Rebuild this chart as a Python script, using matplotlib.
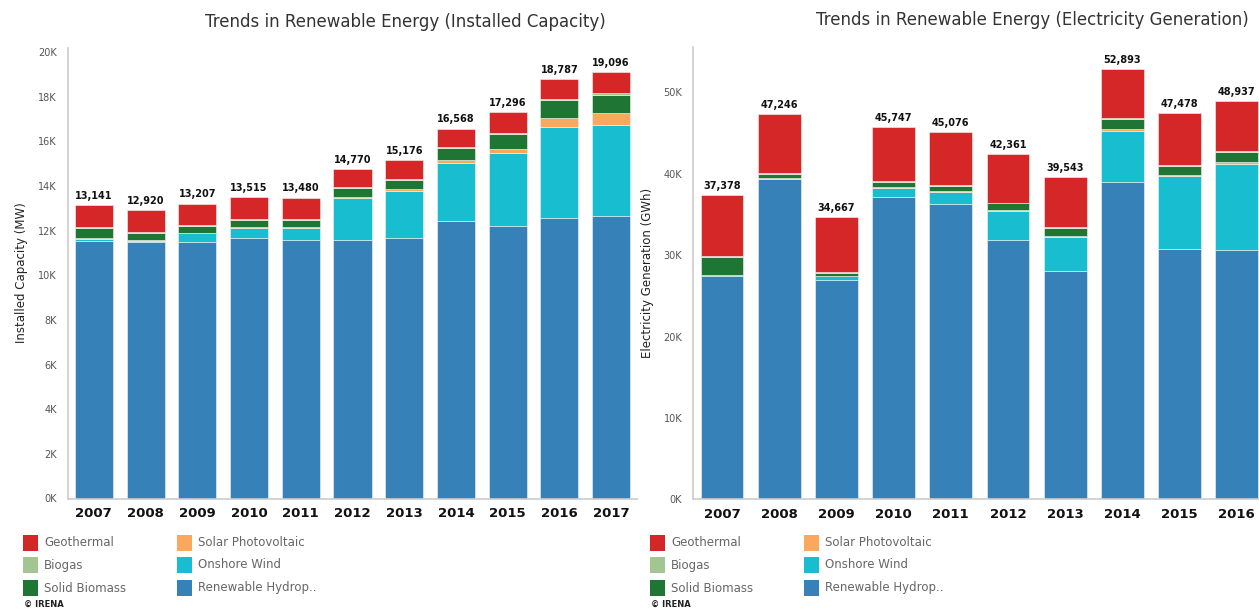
import matplotlib
matplotlib.use("Agg")
import matplotlib.pyplot as plt
from matplotlib.patches import Rectangle

plt.rcParams['font.family'] = ['DejaVu Sans']

# --- data (values in K) ---
years_cap = ['2007', '2008', '2009', '2010', '2011', '2012', '2013', '2014', '2015', '2016', '2017']
cap_hydro = [11.54, 11.49, 11.50, 11.65, 11.56, 11.60, 11.66, 12.43, 12.19, 12.57, 12.64]
cap_wind = [0.09, 0.05, 0.39, 0.46, 0.56, 1.88, 2.10, 2.61, 3.30, 4.06, 4.09]
cap_solar = [0.02, 0.02, 0.02, 0.03, 0.03, 0.04, 0.10, 0.12, 0.15, 0.39, 0.55]
cap_biomass = [0.45, 0.34, 0.28, 0.34, 0.33, 0.38, 0.40, 0.52, 0.70, 0.81, 0.81]
cap_biogas = [0.05, 0.05, 0.05, 0.05, 0.05, 0.06, 0.05, 0.05, 0.05, 0.05, 0.05]
cap_geo = [0.991, 0.97, 0.967, 0.985, 0.95, 0.81, 0.866, 0.838, 0.906, 0.907, 0.956]
cap_totals = [13141, 12920, 13207, 13515, 13480, 14770, 15176, 16568, 17296, 18787, 19096]

years_gen = ['2007', '2008', '2009', '2010', '2011', '2012', '2013', '2014', '2015', '2016']
gen_hydro = [27.42, 39.34, 26.95, 37.20, 36.34, 31.88, 28.07, 39.00, 30.81, 30.65]
gen_wind = [0.15, 0.05, 0.44, 1.10, 1.47, 3.60, 4.14, 6.30, 8.85, 10.53]
gen_solar = [0.03, 0.10, 0.08, 0.08, 0.08, 0.10, 0.10, 0.25, 0.15, 0.28]
gen_biomass = [2.17, 0.45, 0.33, 0.66, 0.57, 0.77, 0.98, 1.18, 1.15, 1.19]
gen_biogas = [0.10, 0.10, 0.10, 0.10, 0.10, 0.10, 0.15, 0.10, 0.10, 0.10]
gen_geo = [7.50, 7.25, 6.77, 6.60, 6.516, 5.911, 6.103, 6.063, 6.418, 6.187]
gen_totals = [37378, 47246, 34667, 45747, 45076, 42361, 39543, 52893, 47478, 48937]

series_names = ['Renewable Hydrop..', 'Onshore Wind', 'Solar Photovoltaic',
                'Solid Biomass', 'Biogas', 'Geothermal']
series_colors = ['#3682b8', '#18bdcf', '#fca75e', '#1f7634', '#a2c592', '#d62728']


def draw_panel(ax, years, stacks, totals, yticks, ytop, ylabel, width):
    x = list(range(len(years)))
    bottom = [0.0] * len(years)
    for vals, col in zip(stacks, series_colors):
        ax.bar(x, vals, width=width, bottom=bottom, color=col,
               edgecolor='#f4f4f4', linewidth=0.4)
        bottom = [b + v for b, v in zip(bottom, vals)]
    for xi, top, tot in zip(x, bottom, totals):
        ax.annotate(f"{tot:,}", (xi, top), xytext=(0, 3), textcoords='offset points',
                    ha='center', va='bottom', fontsize=7, fontweight='bold', color='#111111')
    ax.set_xlim(-0.5, 10.5)
    ax.set_ylim(0, ytop)
    ax.set_xticks(x)
    ax.set_xticklabels(years, fontsize=9.5, fontweight='bold', color='#111111')
    ax.set_yticks(yticks)
    ax.set_yticklabels([f"{int(t)}K" for t in yticks], fontsize=7, color='#555555')
    ax.tick_params(axis='both', length=0)
    ax.tick_params(axis='x', pad=6)
    ax.tick_params(axis='y', pad=8)
    for s in ('top', 'right'):
        ax.spines[s].set_visible(False)
    for s in ('left', 'bottom'):
        ax.spines[s].set_color('#cccccc')
        ax.spines[s].set_linewidth(1.2)
    ax.set_ylabel(ylabel, fontsize=8.5, color='#222222', labelpad=7)


def draw_legend(fig, x0, x1):
    W, H = 1259, 609
    order = [5, 4, 3, 2, 1, 0]  # Geothermal, Biogas, Solid Biomass | Solar, Wind, Hydro
    rows = [543, 565, 588]
    for i, idx in enumerate(order):
        cx = x0 if i < 3 else x1
        cy = rows[i % 3]
        fig.patches.append(Rectangle(((cx) / W, 1 - (cy + 8) / H), 15 / W, 16 / H,
                                     transform=fig.transFigure, facecolor=series_colors[idx],
                                     edgecolor='none'))
        fig.text((cx + 21) / W, 1 - cy / H, series_names[idx], fontsize=8.5,
                 color='#666666', va='center', ha='left')
    fig.text((x0 + 1) / W, 1 - 604 / H, '© IRENA', fontsize=6, fontweight='bold',
             color='#222222', va='center', ha='left')


fig = plt.figure(figsize=(12.59, 6.09), dpi=100)

ax1 = fig.add_axes([68 / 1259, 1 - 498.5 / 609, (637 - 68) / 1259, (498.5 - 47.5) / 609])
draw_panel(ax1, years_cap,
           [cap_hydro, cap_wind, cap_solar, cap_biomass, cap_biogas, cap_geo],
           cap_totals, range(0, 21, 2), 20.2, 'Installed Capacity (MW)', 0.735)

ax2 = fig.add_axes([693.4 / 1259, 1 - 499.4 / 609, (1322.6 - 693.4) / 1259, (499.4 - 46.7) / 609])
draw_panel(ax2, years_gen,
           [gen_hydro, gen_wind, gen_solar, gen_biomass, gen_biogas, gen_geo],
           gen_totals, range(0, 51, 10), 55.6, 'Electricity Generation (GWh)', 0.75)

fig.text(405 / 1259, 1 - 22 / 609, 'Trends in Renewable Energy (Installed Capacity)',
         fontsize=12, color='#333333', ha='center', va='center')
fig.text(1032 / 1259, 1 - 20 / 609, 'Trends in Renewable Energy (Electricity Generation)',
         fontsize=12, color='#333333', ha='center', va='center')

draw_legend(fig, 23, 177)
draw_legend(fig, 650, 804)

fig.savefig('out.png', dpi=100)
